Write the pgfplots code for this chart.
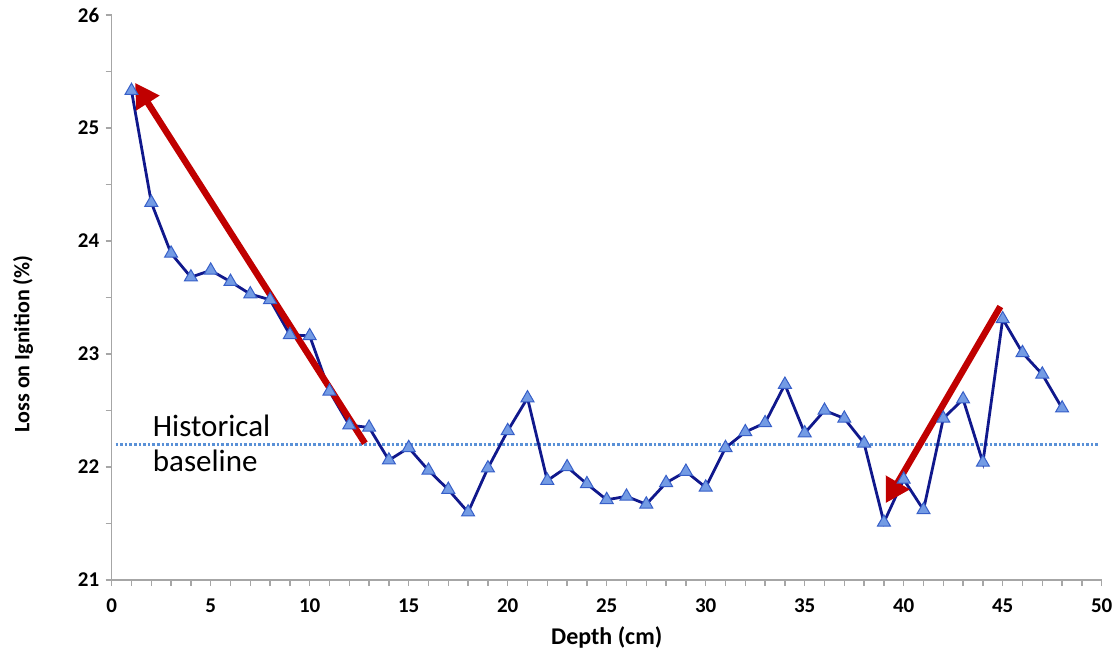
\documentclass[border=0pt]{standalone}
\usepackage{fontspec}
\setmainfont{Carlito}
\usepackage{pgfplots}
\pgfplotsset{compat=1.18}
\usetikzlibrary{arrows.meta}
\definecolor{seriesline}{RGB}{16,24,140}
\definecolor{markfill}{RGB}{115,155,228}
\definecolor{markedge}{RGB}{55,95,200}
\definecolor{arrowred}{RGB}{192,0,0}
\definecolor{baseblue}{RGB}{90,145,215}
\definecolor{axisgray}{RGB}{166,166,166}
\begin{document}
\begin{tikzpicture}
\useasboundingbox (-111.7pt,-70pt) rectangle (1004.3pt,580pt);
\begin{axis}[
  scale only axis,
  width=990pt, height=565pt,
  xmin=0, xmax=50, ymin=21, ymax=26,
  axis lines*=left,
  axis line style={draw=axisgray, line width=1.5pt},
  xtick={0,5,...,50},
  minor x tick num=4,
  ytick={21,22,...,26},
  minor y tick num=1,
  tick align=outside,
  major tick length=6pt, minor tick length=6pt,
  every tick/.style={draw=axisgray, line width=1.3pt},
  tick label style={font=\fontsize{21}{24}\selectfont\bfseries},
  xticklabel style={yshift=-9pt},
  yticklabel style={xshift=-3pt},
  /pgf/number format/assume math mode=true,
  xlabel={Depth (cm)},
  ylabel={Loss on Ignition (\%)},
  xlabel style={font=\fontsize{24}{28}\selectfont\bfseries, at={(axis description cs:0.5,-0.102)}, anchor=center},
  ylabel style={font=\fontsize{22}{26}\selectfont\bfseries, at={(axis description cs:-0.0895,0.418)}, anchor=center},
  clip=false,
]
\addplot[baseblue, line width=2.6pt, dash pattern=on 2.6pt off 2pt] coordinates {(0.2,22.2) (49.8,22.2)};
\addplot[seriesline, line width=2.8pt, mark=triangle*, mark size=7.5pt,
  mark options={fill=markfill, draw=markedge, line width=1pt}] coordinates {
(1,25.33) (2,24.34) (3,23.89) (4,23.68) (5,23.74) (6,23.64) (7,23.53) (8,23.48)
(9,23.17) (10,23.16) (11,22.67) (12,22.37) (13,22.35) (14,22.06) (15,22.17) (16,21.97)
(17,21.80) (18,21.60) (19,21.99) (20,22.32) (21,22.61) (22,21.88) (23,22.00) (24,21.85)
(25,21.71) (26,21.74) (27,21.67) (28,21.86) (29,21.96) (30,21.82) (31,22.17) (32,22.31)
(33,22.39) (34,22.73) (35,22.30) (36,22.50) (37,22.43) (38,22.21) (39,21.51) (40,21.89)
(41,21.62) (42,22.43) (43,22.60) (44,22.04) (45,23.31) (46,23.01) (47,22.82) (48,22.52)
};
\draw[arrowred, line width=6.5pt, -{Triangle[length=24pt,width=26pt]}] (axis cs:12.79,22.21) -- (axis cs:1.18,25.40);
\draw[arrowred, line width=6.5pt, -{Triangle[length=24pt,width=26pt]}] (axis cs:44.88,23.42) -- (axis cs:39.09,21.68);
\node[anchor=base west, inner sep=0pt, font=\fontsize{31}{36}\selectfont] at (axis cs:2.07,22.268) {Historical};
\node[anchor=base west, inner sep=0pt, font=\fontsize{31}{36}\selectfont] at (axis cs:2.07,21.958) {baseline};
\end{axis}
\end{tikzpicture}
\end{document}
